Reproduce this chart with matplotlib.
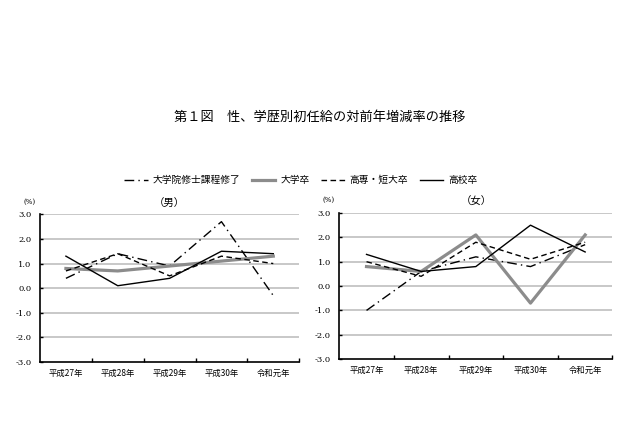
import numpy as np
import matplotlib
matplotlib.use("Agg")
import matplotlib.pyplot as plt
from matplotlib.lines import Line2D

plt.rcParams['font.family'] = ['Noto Sans CJK JP', 'DejaVu Sans']

years = ["平成27年", "平成28年", "平成29年", "平成30年", "令和元年"]
series_names = ["大学院修士課程修了", "大学卒", "高専・短大卒", "高校卒"]

# 男
male_grad = [0.4, 1.4, 0.9, 2.7, -0.3]
male_univ = [0.8, 0.7, 0.9, 1.1, 1.3]
male_college = [0.7, 1.4, 0.5, 1.3, 1.0]
male_high = [1.3, 0.1, 0.4, 1.5, 1.4]

# 女
female_grad = [-1.0, 0.6, 1.2, 0.8, 1.7]
female_univ = [0.8, 0.6, 2.1, -0.7, 2.1]
female_college = [1.0, 0.4, 1.8, 1.1, 1.8]
female_high = [1.3, 0.6, 0.8, 2.5, 1.4]

styles = [
    dict(color="black", lw=1.0, ls=(0, (7, 3, 1, 3))),
    dict(color="#8c8c8c", lw=2.3, ls="-"),
    dict(color="black", lw=1.0, ls=(0, (4, 2.5))),
    dict(color="black", lw=1.0, ls="-"),
]

num_font = "DejaVu Serif"


def draw(ax, data, title):
    x = np.arange(len(years))
    for y in [-2, -1, 0, 1, 2, 3]:
        ax.axhline(y, color="#c8c8c8", lw=1.4, zorder=0)
    for vals, st in zip(data, styles):
        ax.plot(x, vals, zorder=3, **st)
    ax.set_xlim(-0.5, len(years) - 0.5)
    ax.set_ylim(-3, 3)
    ax.set_yticks(np.arange(-3, 3.1, 1))
    ax.set_yticklabels([f"{v:.1f}" for v in np.arange(-3, 3.1, 1)],
                       fontsize=6, family=num_font)
    ax.set_xticks(x)
    ax.set_xticklabels(years, fontsize=6)
    ax.set_xticks(np.arange(0.5, len(years)), minor=True)
    ax.tick_params(axis="x", which="major", length=0, pad=5)
    ax.tick_params(axis="x", which="minor", length=3, direction="in", width=1)
    ax.tick_params(axis="y", length=2, direction="in", width=1, pad=6)
    for s in ("top", "right"):
        ax.spines[s].set_visible(False)
    for s in ("left", "bottom"):
        ax.spines[s].set_linewidth(1.2)
    ax.text(0.5, 1.04, title, transform=ax.transAxes, ha="center",
            va="bottom", fontsize=7.5)
    ax.text(-0.04, 1.06, "(%)", transform=ax.transAxes, ha="center",
            va="bottom", fontsize=5, family=num_font)


fig = plt.figure(figsize=(6.4, 4.26), dpi=100)
axL = fig.add_axes([0.0625, 0.150, 0.405, 0.347])
axR = fig.add_axes([0.530, 0.157, 0.427, 0.343])
draw(axL, [male_grad, male_univ, male_college, male_high], "（男）")
draw(axR, [female_grad, female_univ, female_college, female_high], "（女）")

fig.text(0.5, 1 - 117 / 426, "第１図　性、学歴別初任給の対前年増減率の推移",
         ha="center", va="center", fontsize=9.5)

handles = [Line2D([0], [0], **st) for st in styles]
fig.legend(handles, series_names, loc="center", ncol=4, frameon=False,
           fontsize=7, bbox_to_anchor=(0.47, 1 - 180 / 426),
           handlelength=2.4, columnspacing=1.2, handletextpad=0.5)

fig.savefig("out.png", dpi=100)
